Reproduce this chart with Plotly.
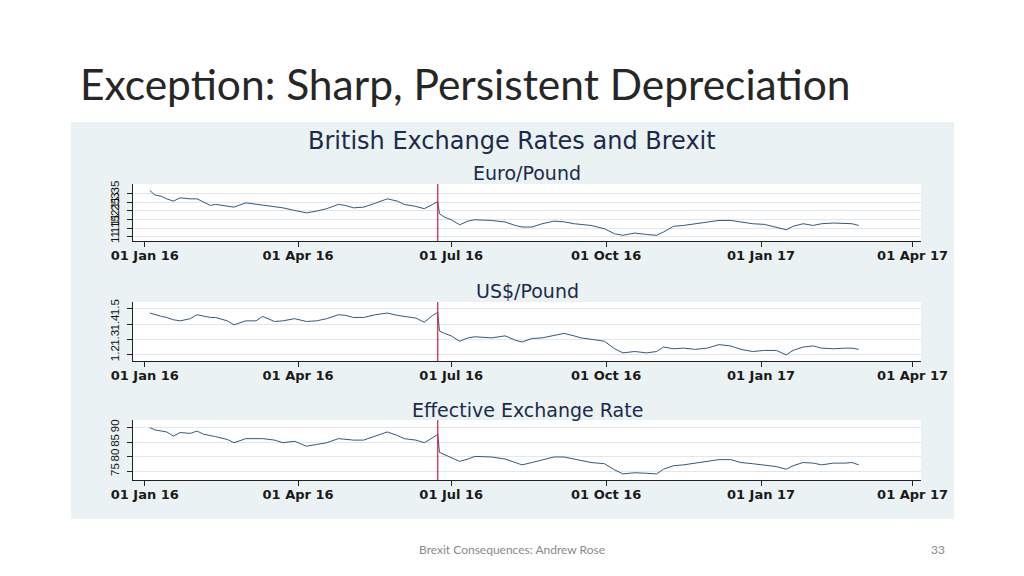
import plotly.graph_objects as go

dates = [
    "2016-01-04", "2016-01-07", "2016-01-11", "2016-01-14", "2016-01-18", "2016-01-22", "2016-01-28",
    "2016-02-01", "2016-02-05", "2016-02-09", "2016-02-12", "2016-02-19", "2016-02-23", "2016-03-01",
    "2016-03-07", "2016-03-11", "2016-03-18", "2016-03-23", "2016-03-30", "2016-04-06", "2016-04-12",
    "2016-04-18", "2016-04-25", "2016-04-29", "2016-05-04", "2016-05-10", "2016-05-17", "2016-05-24",
    "2016-05-30", "2016-06-03", "2016-06-10", "2016-06-15", "2016-06-20", "2016-06-23", "2016-06-24",
    "2016-06-27", "2016-07-01", "2016-07-06", "2016-07-11", "2016-07-15", "2016-07-25", "2016-08-02",
    "2016-08-08", "2016-08-12", "2016-08-18", "2016-08-24", "2016-08-31", "2016-09-06", "2016-09-12",
    "2016-09-16", "2016-09-22", "2016-09-30", "2016-10-06", "2016-10-11", "2016-10-18", "2016-10-25",
    "2016-10-31", "2016-11-04", "2016-11-10", "2016-11-16", "2016-11-23", "2016-11-30", "2016-12-07",
    "2016-12-14", "2016-12-20", "2016-12-27", "2017-01-03", "2017-01-10", "2017-01-16", "2017-01-20",
    "2017-01-26", "2017-02-01", "2017-02-06", "2017-02-13", "2017-02-20", "2017-02-24", "2017-02-28",
]

euro_pound = [
    1.367, 1.342, 1.333, 1.319, 1.306, 1.325, 1.319, 1.319, 1.300, 1.281,
    1.287, 1.275, 1.271, 1.296, 1.287, 1.281, 1.271, 1.267, 1.252, 1.238,
    1.248, 1.262, 1.287, 1.281, 1.267, 1.271, 1.294, 1.319, 1.306, 1.287,
    1.275, 1.262, 1.287, 1.304, 1.233, 1.213, 1.198, 1.169, 1.190, 1.198,
    1.194, 1.185, 1.165, 1.156, 1.156, 1.175, 1.190, 1.186, 1.175, 1.171,
    1.165, 1.146, 1.117, 1.108, 1.121, 1.113, 1.108, 1.127, 1.160, 1.165,
    1.175, 1.185, 1.194, 1.194, 1.185, 1.175, 1.171, 1.156, 1.140, 1.160,
    1.175, 1.165, 1.175, 1.179, 1.179, 1.175, 1.165,
]

usd_pound = [
    1.473, 1.462, 1.451, 1.444, 1.429, 1.422, 1.436, 1.462, 1.451, 1.444,
    1.444, 1.422, 1.396, 1.422, 1.422, 1.451, 1.418, 1.422, 1.436, 1.418,
    1.422, 1.436, 1.462, 1.458, 1.444, 1.444, 1.462, 1.473, 1.458, 1.451,
    1.440, 1.413, 1.458, 1.478, 1.356, 1.340, 1.324, 1.289, 1.311, 1.318,
    1.311, 1.324, 1.296, 1.284, 1.307, 1.311, 1.329, 1.340, 1.324, 1.311,
    1.302, 1.289, 1.240, 1.213, 1.222, 1.213, 1.222, 1.251, 1.240, 1.244,
    1.236, 1.244, 1.267, 1.258, 1.236, 1.222, 1.229, 1.229, 1.200, 1.229,
    1.251, 1.258, 1.244, 1.240, 1.244, 1.244, 1.236,
]

effective_rate = [
    90.0, 89.2, 88.8, 88.5, 87.1, 88.3, 88.0, 88.8, 87.7, 87.1,
    86.9, 85.9, 84.8, 86.2, 86.2, 86.2, 85.7, 84.8, 85.3, 83.6,
    84.2, 84.8, 86.2, 85.9, 85.7, 85.7, 87.1, 88.5, 87.3, 86.2,
    85.7, 84.8, 86.5, 87.7, 81.5, 80.7, 79.9, 78.4, 79.2, 80.1,
    79.9, 79.2, 78.0, 77.2, 78.0, 79.0, 79.9, 79.9, 79.2, 78.7,
    78.0, 77.6, 75.5, 74.1, 74.5, 74.3, 74.1, 75.7, 76.9, 77.2,
    77.8, 78.4, 79.0, 79.0, 78.0, 77.6, 77.2, 76.6, 75.7, 76.9,
    78.0, 77.8, 77.2, 77.8, 77.8, 78.0, 77.2,
]

x_ticks = ["2016-01-01", "2016-04-01", "2016-07-01", "2016-10-01", "2017-01-01", "2017-04-01"]
referendum = "2016-06-23"

panel_titles = ["Euro/Pound", "US$/Pound", "Effective Exchange Rate"]
y_ticks = [
    [1.1, 1.15, 1.2, 1.25, 1.3, 1.35],
    [1.2, 1.3, 1.4, 1.5],
    [75, 80, 85, 90],
]
y_ticktext = [
    ["1.1", "1.15", "1.2", "1.25", "1.3", "1.35"],
    ["1.2", "1.3", "1.4", "1.5"],
    ["75", "80", "85", "90"],
]
y_ranges = [[1.075, 1.405], [1.16, 1.545], [72.0, 92.6]]
series = [euro_pound, usd_pound, effective_rate]

W, H = 1024, 576
OFF = 8  # the page body adds an 8px margin around the figure
LINE = "#1a476f"
RED = "#d41c48"
GRID = "#e1e8ec"
STATA_BG = "#eaf2f3"
FONT = "DejaVu Sans"

# panel pixel boxes (left, top, right, bottom) in screen pixels
panels = [(133, 184, 921, 241), (133, 302, 921, 361), (133, 420, 921, 480)]
subtitle_y = [173, 291, 410]


def px(x):
    return (x - OFF) / W


def py(y):
    return 1 - (y - OFF) / H


fig = go.Figure()
shapes = [
    dict(type="rect", xref="paper", yref="paper", layer="below",
         x0=px(71), x1=px(954), y0=py(519), y1=py(122),
         fillcolor=STATA_BG, line=dict(width=0)),
]
annotations = []

for i, (vals, box) in enumerate(zip(series, panels)):
    n = "" if i == 0 else str(i + 1)
    l, t, r, b = box
    fig.add_trace(go.Scatter(
        x=dates, y=vals, mode="lines", xaxis="x" + n, yaxis="y" + n,
        line=dict(color=LINE, width=0.9), showlegend=False, hoverinfo="skip",
    ))
    fig.update_layout({
        "xaxis" + n: dict(
            domain=[px(l), px(r)], anchor="y" + n, type="date", automargin=False,
            range=["2015-12-25", "2017-04-06"],
            tickvals=x_ticks, tickformat="%d %b %y",
            ticks="outside", ticklen=5, tickcolor="#222", showgrid=False,
            showline=True, linecolor="#222", linewidth=1, zeroline=False,
            ticklabelstandoff=-3,
            tickfont=dict(family=FONT, size=13, color="#1a1a1a", weight="bold"),
        ),
        "yaxis" + n: dict(
            domain=[py(b), py(t)], anchor="x" + n, range=y_ranges[i], automargin=False,
            tickvals=y_ticks[i], ticktext=y_ticktext[i], tickangle=-90,
            ticks="outside", ticklen=5, tickcolor="#222",
            showgrid=True, gridcolor=GRID, gridwidth=1,
            showline=True, linecolor="#222", linewidth=1, zeroline=False,
            ticklabelstandoff=3,
            tickfont=dict(family="Liberation Sans", size=11.5, color="#111111"),
        ),
    })
    # white plot region of the Stata graph
    shapes.append(dict(type="rect", xref="paper", yref="paper", layer="below",
                       x0=px(l), x1=px(r), y0=py(b), y1=py(t),
                       fillcolor="white", line=dict(width=0)))
    # referendum marker
    shapes.append(dict(type="line", xref="x" + n, yref="y" + n + " domain",
                       x0=referendum, x1=referendum, y0=0, y1=1,
                       line=dict(color=RED, width=1.2)))
    annotations.append(dict(
        text=panel_titles[i], xref="paper", yref="paper",
        x=px((l + r) / 2), y=py(subtitle_y[i]),
        xanchor="center", yanchor="middle", showarrow=False,
        font=dict(family=FONT, size=19, color="#1c2a4a"),
    ))

annotations += [
    dict(text="British Exchange Rates and Brexit", xref="paper", yref="paper",
         x=px(512), y=py(141), xanchor="center", yanchor="middle", showarrow=False,
         font=dict(family=FONT, size=24, color="#1c2a4a")),
    dict(text="Exception: Sharp, Persistent Depreciation", xref="paper", yref="paper",
         x=px(78), y=py(83), xanchor="left", yanchor="middle", showarrow=False,
         font=dict(family="Lato", size=42.5, color="#262626")),
    dict(text="Brexit Consequences: Andrew Rose", xref="paper", yref="paper",
         x=px(512), y=py(549), xanchor="center", yanchor="middle", showarrow=False,
         font=dict(family="Lato", size=12, color="#8a8a8a")),
    dict(text="33", xref="paper", yref="paper",
         x=px(938), y=py(549), xanchor="center", yanchor="middle", showarrow=False,
         font=dict(family="Lato", size=12, color="#8a8a8a")),
]

fig.update_layout(
    width=W, height=H, autosize=False,
    margin=dict(l=0, r=0, t=0, b=0, autoexpand=False),
    paper_bgcolor="white", plot_bgcolor="rgba(0,0,0,0)",
    shapes=shapes, annotations=annotations,
)

fig.write_html("out.html")
